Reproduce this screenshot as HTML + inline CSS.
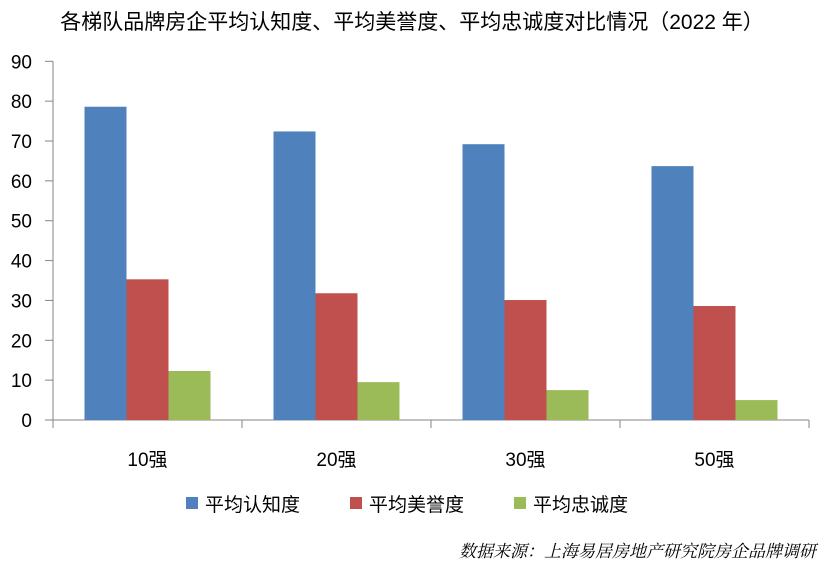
<!DOCTYPE html>
<html><head><meta charset="utf-8"><style>
body{margin:0;background:#fff}
svg text{font-family:"Liberation Sans","Noto Sans CJK SC",sans-serif;fill:#000}
</style></head><body>
<svg width="827" height="569" xmlns="http://www.w3.org/2000/svg">
<text x="412" y="29" text-anchor="middle" font-size="21">各梯队品牌房企平均认知度、平均美誉度、平均忠诚度对比情况（2022 年）</text>
<g id="axes"></g>
<g id="bars"></g>
<g id="legend"></g>
<text x="816" y="557" text-anchor="end" font-size="17" style="font-family:'Noto Serif CJK SC',serif;font-style:italic">数据来源：上海易居房地产研究院房企品牌调研</text>
</svg>
<script>
const categories=["10强","20强","30强","50强"];
const seriesNames=["平均认知度","平均美誉度","平均忠诚度"];
const awareness=[78.6,72.4,69.2,63.7];
const reputation=[35.3,31.8,30.1,28.6];
const loyalty=[12.3,9.5,7.5,5.0];
const yTicks=[0,10,20,30,40,50,60,70,80,90];
const colors=["#4f81bd","#c0504d","#9bbb59"];
const NS="http://www.w3.org/2000/svg";
const x0=53,x1=809,yTop=61.3,yBot=420,yMax=90;
const y=v=>yBot-(v/yMax)*(yBot-yTop);
const gw=(x1-x0)/categories.length;
function mk(tag,attrs,parent){const e=document.createElementNS(NS,tag);for(const k in attrs)e.setAttribute(k,attrs[k]);parent.appendChild(e);return e;}
const axes=document.getElementById('axes');
let l=mk('line',{x1:x0,y1:yTop,x2:x0,y2:yBot,stroke:'#868686'},axes);


l=mk('line',{x1:x0,y1:yBot,x2:x1,y2:yBot,stroke:'#868686'},axes);


yTicks.forEach(t=>{
 const tk=mk('line',{x1:x0-8,y1:y(t),x2:x0,y2:y(t),stroke:'#868686'},axes);
 
 
 const tx=mk('text',{x:32,y:y(t)+7,'text-anchor':'end','font-size':19},axes);
 tx.textContent=t;
 
 
});
for(let i=0;i<=categories.length;i++){
 const tk=mk('line',{x1:x0+i*gw,y1:yBot,x2:x0+i*gw,y2:yBot+8,stroke:'#868686'},axes);
 
 
}
const bars=document.getElementById('bars');
const data=[awareness,reputation,loyalty];
const bw=42;
categories.forEach((c,i)=>{
 const gx=x0+i*gw+(gw-3*bw)/2;
 data.forEach((s,j)=>{
  const r=mk('rect',{x:gx+j*bw,y:y(s[i]),width:bw,height:yBot-y(s[i]),fill:colors[j]},bars);
  
  
 });
 const t=mk('text',{x:x0+i*gw+gw/2,y:466,'text-anchor':'middle','font-size':19},bars);
 t.textContent=c;
 
 
});
const lg=document.getElementById('legend');
const lx=[186,350,514];
seriesNames.forEach((n,j)=>{
 const r=mk('rect',{x:lx[j],y:497,width:12,height:12,fill:colors[j]},lg);
 
 
 const t=mk('text',{x:lx[j]+19,y:511,'font-size':19},lg);
 t.textContent=n;
 
 
});
</script>
</body></html>
